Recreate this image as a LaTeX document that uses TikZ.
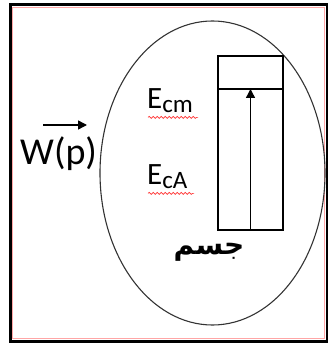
\documentclass[tikz,border=0pt]{standalone}
\usepackage{fontspec}
\setmainfont{Carlito}
\newfontfamily\arabicfont[Script=Arabic]{DejaVu Sans}
\TeXXeTstate=1
\usepackage{tikz}
\usetikzlibrary{shapes.geometric, arrows.meta, positioning, decorations.pathmorphing}

\begin{document}
\begin{tikzpicture}[
    x=1pt, y=-1pt,
    frame/.style={draw=black, line width=3pt},
    body/.style={ellipse, draw=black!80, line width=1.1pt, minimum width=225pt, minimum height=304pt},
    tubebox/.style={rectangle, draw=black, line width=1.4pt, minimum width=65pt, minimum height=174pt, inner sep=0pt},
    arrow/.style={-{Triangle[length=9pt, width=9pt]}, line width=1.4pt},
    energy/.style={font=\fontsize{31}{31}\selectfont, inner sep=0pt, anchor=base west},
    spell/.style={draw=red!80, line width=0.7pt, decorate, decoration={snake, segment length=4pt, amplitude=1pt}}
]
    % page and border
    \useasboundingbox (0,0) rectangle (328,344);
    \draw[frame] (10,5) rectangle (327,341);
    \draw[red!35, line width=0.8pt] (12.5,7.5) rectangle (324.5,338.5);

    % system (ellipse) and the column inside it
    \node[body] (system) at (212.5,173) {};
    \node[tubebox] (tube) at (250.5,143) {};
    \coordinate (divl) at (218,89);
    \coordinate (divr) at (283,89);
    \draw[line width=1.4pt] (divl) -- (divr);
    \draw[arrow] (tube.south) -- (tube.south |- divl);

    % energy labels
    \node[energy] (ecm) at (147,109) {E\raisebox{-4pt}{\fontsize{25}{25}\selectfont cm}};
    \node[energy] (eca) at (147,185) {E\raisebox{-4pt}{\fontsize{25}{25}\selectfont cA}};
    \draw[spell] (ecm.south west) ++(1,4) -- ++(50,0);
    \draw[spell] (eca.south west) ++(1,4) -- ++(46,0);

    % work received
    \node[font=\fontsize{38}{38}\selectfont, inner sep=0pt, anchor=base west] (work) at (20,165) {W(p)};
    \coordinate (wstart) at (43,125);
    \coordinate (wend) at (87,125);
    \draw[arrow] (wstart) -- (wend);

    % body name
    \node[font=\arabicfont\bfseries\fontsize{28}{28}\selectfont] (name) at (209,252) {\beginR جسم\endR};
\end{tikzpicture}
\end{document}
